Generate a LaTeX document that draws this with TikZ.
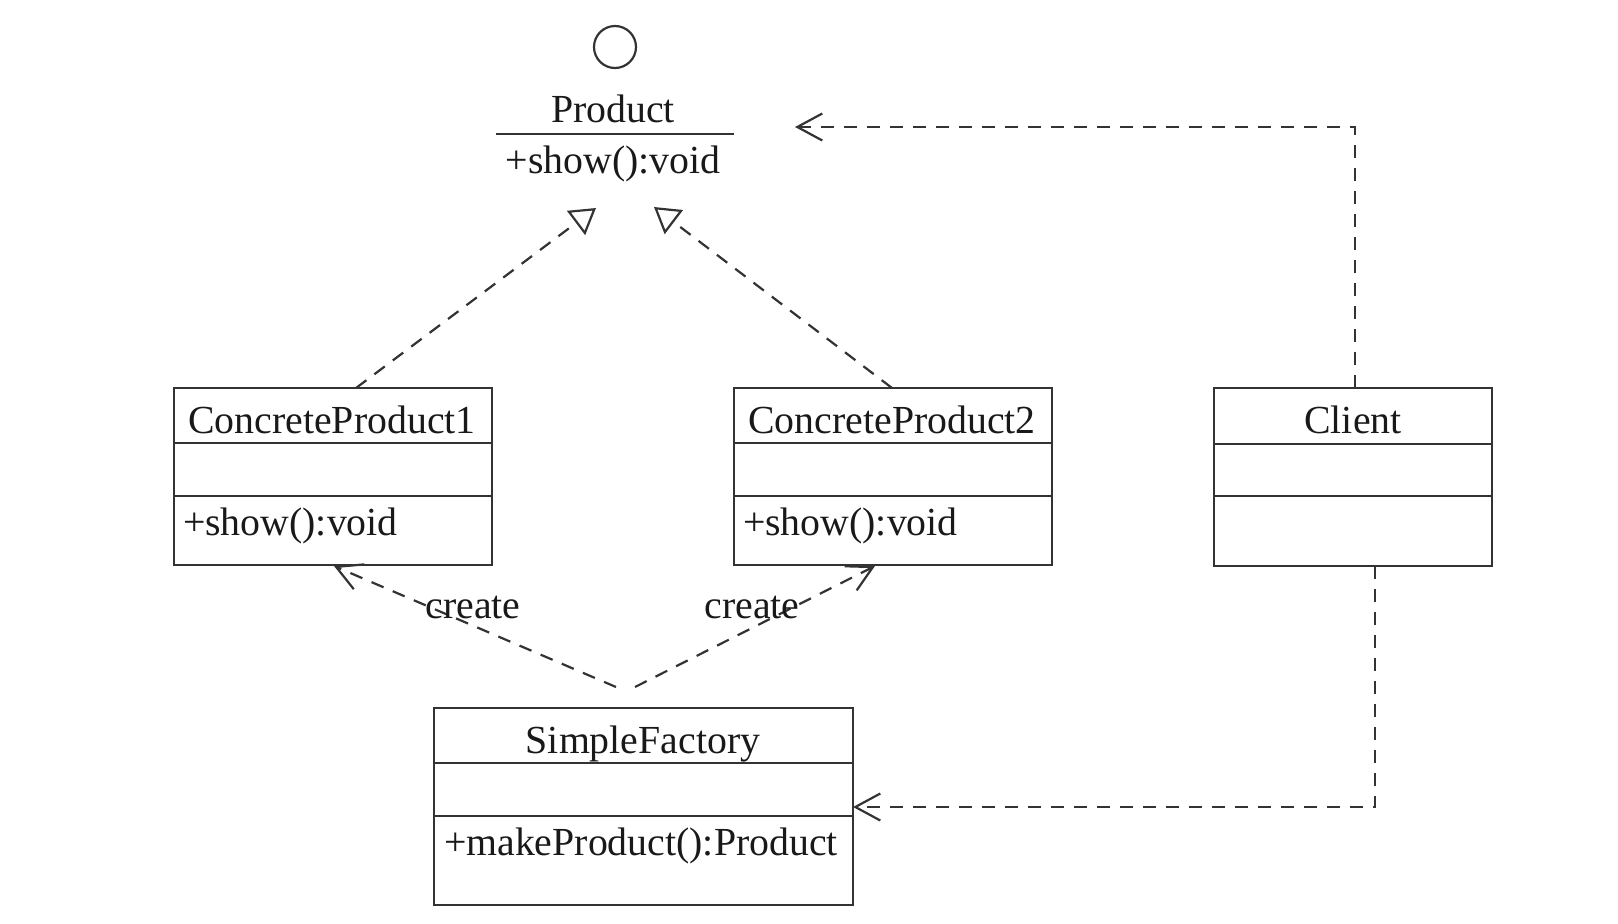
\documentclass[tikz,border=0pt]{standalone}
\usepackage{fontspec}
\setmainfont{Liberation Serif}
\usetikzlibrary{arrows.meta,calc}
\begin{document}
\begin{tikzpicture}[x=1pt,y=-1pt,line width=2.2pt,
  every node/.style={font=\fontsize{39.8}{47}\selectfont, inner sep=0pt, outer sep=0pt, text=black!90},
  clsbox/.style={draw=black!80, anchor=north west, minimum width=#1},
  sepline/.style={draw=black!80},
  depline/.style={draw=black!80, dash pattern=on 13pt off 10pt, -{Straight Barb[length=25pt,width=27pt,line width=2.2pt]}},
  realline/.style={draw=black!80, dash pattern=on 13pt off 10pt, -{Triangle[open,length=25pt,width=30pt,line width=2.2pt]}}
]
\useasboundingbox (0,0) rectangle (1618,924);

% Product interface
\node[draw=black!80, circle, minimum size=42pt] (prodcirc) at (615,47) {};
\node[anchor=base] (prodname) at (613,122) {Product};
\coordinate (pl) at (496,134);
\coordinate (pr) at (734,134);
\draw[sepline] (pl) -- (pr);
\node[anchor=base] (prodop) at (613,173) {+show():void};

% ConcreteProduct1
\node[clsbox=318pt, minimum height=177pt] (cp1) at (174,388) {};
\draw[sepline] (cp1.west |- 0,443) -- (cp1.east |- 0,443);
\draw[sepline] (cp1.west |- 0,496) -- (cp1.east |- 0,496);
\node[anchor=base] (cp1name) at (332,433) {ConcreteProduct1};
\node[anchor=base west] (cp1op) at (183,535) {+show():void};

% ConcreteProduct2
\node[clsbox=318pt, minimum height=177pt] (cp2) at (734,388) {};
\draw[sepline] (cp2.west |- 0,443) -- (cp2.east |- 0,443);
\draw[sepline] (cp2.west |- 0,496) -- (cp2.east |- 0,496);
\node[anchor=base] (cp2name) at (892,433) {ConcreteProduct2};
\node[anchor=base west] (cp2op) at (743,535) {+show():void};

% Client
\node[clsbox=278pt, minimum height=178pt] (client) at (1214,388) {};
\draw[sepline] (client.west |- 0,444) -- (client.east |- 0,444);
\draw[sepline] (client.west |- 0,496) -- (client.east |- 0,496);
\node[anchor=base] (clientname) at (1353,433) {Client};

% SimpleFactory
\node[clsbox=419pt, minimum height=197pt] (sf) at (434,708) {};
\draw[sepline] (sf.west |- 0,763) -- (sf.east |- 0,763);
\draw[sepline] (sf.west |- 0,816) -- (sf.east |- 0,816);
\node[anchor=base] (sfname) at (643,753) {SimpleFactory};
\node[anchor=base west] (sfop) at (444,855) {+makeProduct():Product};

% realization
\coordinate (tipL) at (596,208);
\coordinate (tipR) at (654,207);
\coordinate (cp1top) at (356,388);
\coordinate (cp2top) at (892,388);
\draw[realline] (cp1top) -- (tipL);
\draw[realline] (cp2top) -- (tipR);

% client dependencies
\coordinate (clup) at (1355,388);
\coordinate (prodin) at (795,127);
\draw[depline] (clup) |- (prodin);
\coordinate (cldown) at (1375,566);
\coordinate (sfin) at (853,807);
\draw[depline] (cldown) |- (sfin);

% create dependencies
\coordinate (sfa) at (616,687);
\coordinate (sfb) at (635,687);
\coordinate (cp1b) at (334,566);
\coordinate (cp2b) at (875,566);
\draw[depline] (sfa) -- (cp1b);
\draw[depline] (sfb) -- (cp2b);
\node[anchor=base] (create1) at (473,618) {create};
\node[anchor=base] (create2) at (752,618) {create};
\end{tikzpicture}
\end{document}
